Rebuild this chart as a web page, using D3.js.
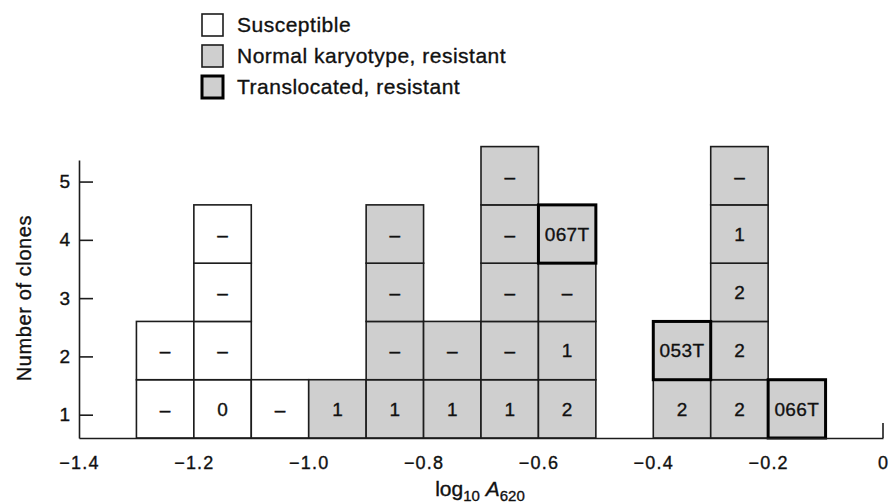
<!DOCTYPE html>
<html>
<head>
<meta charset="utf-8">
<script src="https://cdn.jsdelivr.net/npm/d3@7"></script>
<style>
  html, body { margin: 0; padding: 0; background: #fff; }
  svg { display: block; font-family: "Liberation Sans", Arial, Helvetica, sans-serif; }
  svg text { fill: #111; stroke: #111; stroke-width: 0.35px; }
</style>
</head>
<body>
<svg id="chart" width="890" height="503"></svg>
<script>
// Left edge of each 0.1-wide log10 A620 bin that holds clones
const binStarts = [-1.3, -1.2, -1.1, -1.0, -0.9, -0.8, -0.7, -0.6, -0.4, -0.3, -0.2];

// Label written in each stacked clone box, bottom to top
const cellLabels = [
  ["–", "–"],
  ["0", "–", "–", "–"],
  ["–"],
  ["1"],
  ["1", "–", "–", "–"],
  ["1", "–"],
  ["1", "–", "–", "–", "–"],
  ["2", "1", "–", "067T"],
  ["2", "053T"],
  ["2", "2", "2", "1", "–"],
  ["066T"]
];

// Clone type of each box: S = susceptible, N = normal karyotype resistant, T = translocated resistant
const cellTypes = [
  ["S", "S"],
  ["S", "S", "S", "S"],
  ["S"],
  ["N"],
  ["N", "N", "N", "N"],
  ["N", "N"],
  ["N", "N", "N", "N", "N"],
  ["N", "N", "N", "T"],
  ["N", "T"],
  ["N", "N", "N", "N", "N"],
  ["T"]
];

const xTickValues = [-1.4, -1.2, -1.0, -0.8, -0.6, -0.4, -0.2, 0];
const yTickValues = [1, 2, 3, 4, 5];

const legendTypes = ["S", "N", "T"];
const legendLabels = ["Susceptible", "Normal karyotype, resistant", "Translocated, resistant"];

const binWidth = 0.1;

const svg = d3.select("#chart");
const ink = "#1c1c1c";
const grey = "#cfcfcf";
const fillFor = t => (t === "S" ? "#ffffff" : grey);

const x = d3.scaleLinear().domain([-1.4, 0]).range([79, 883]);
const y = d3.scaleLinear().domain([0.6, 5.37]).range([438, 160]);

// Flatten the stacks into individual boxes
const cells = [];
binStarts.forEach((b, i) => {
  cellLabels[i].forEach((lab, k) => {
    cells.push({ bin: b, level: k + 1, label: lab, type: cellTypes[i][k] });
  });
});

const g = svg.append("g");

function drawCells(sel, data, strokeW) {
  const cg = sel.selectAll(null).data(data).enter().append("g");
  cg.append("rect")
    .attr("x", d => x(d.bin))
    .attr("y", d => y(d.level + 0.6))
    .attr("width", d => x(d.bin + binWidth) - x(d.bin))
    .attr("height", d => y(d.level - 0.4) - y(d.level + 0.6))
    .attr("fill", d => fillFor(d.type))
    .attr("stroke", d => d.type === "T" ? "#000" : ink)
    .attr("stroke-width", strokeW);
  cg.append("text")
    .attr("x", d => (x(d.bin) + x(d.bin + binWidth)) / 2)
    .attr("y", d => (y(d.level + 0.6) + y(d.level - 0.4)) / 2)
    .attr("dy", "0.36em")
    .attr("text-anchor", "middle")
    .attr("font-size", 19)
    .attr("letter-spacing", d => d.label.length > 2 ? 0.4 : 0)
    .text(d => d.label);
}

drawCells(g, cells.filter(d => d.type !== "T"), 1.6);
drawCells(g, cells.filter(d => d.type === "T"), 3);

// Y axis with inward ticks
const yAxis = d3.axisLeft(y).tickValues(yTickValues).tickSize(-14).tickSizeOuter(0).tickPadding(9)
  .tickFormat(d3.format("d"));
const yg = svg.append("g").attr("transform", `translate(${x(-1.4)},0)`).call(yAxis);
yg.select(".domain").attr("stroke", ink).attr("stroke-width", 1.6);
yg.selectAll(".tick line").attr("stroke", ink).attr("stroke-width", 1.6);
yg.selectAll(".tick text").attr("font-size", 19)
  .attr("font-family", "Liberation Sans, Arial, sans-serif");

// X axis: baseline only, labels below, a short upright tick at zero
const xAxis = d3.axisBottom(x).tickValues(xTickValues).tickSize(0).tickSizeOuter(0).tickPadding(18)
  .tickFormat(d => d === 0 ? "0" : d3.format(".1f")(d));
const xg = svg.append("g").attr("transform", `translate(0,${y(0.6)})`).call(xAxis);
xg.select(".domain").attr("stroke", ink).attr("stroke-width", 1.6);
xg.selectAll(".tick text").attr("font-size", 18).attr("letter-spacing", 1.2)
  .attr("font-family", "Liberation Sans, Arial, sans-serif");
svg.append("line")
  .attr("x1", x(0)).attr("x2", x(0))
  .attr("y1", y(0.6)).attr("y2", y(0.6) - 15)
  .attr("stroke", ink).attr("stroke-width", 1.6);

// Axis titles
const xt = svg.append("text")
  .attr("x", 480).attr("y", 496)
  .attr("text-anchor", "middle")
  .attr("font-size", 21);
xt.append("tspan").text("log");
xt.append("tspan").attr("font-size", 15).attr("dy", 5).text("10");
xt.append("tspan").attr("dy", -5).text(" ");
xt.append("tspan").attr("font-style", "italic").text("A");
xt.append("tspan").attr("font-size", 15).attr("dy", 5).text("620");

svg.append("text")
  .attr("transform", "translate(31,298) rotate(-90)")
  .attr("text-anchor", "middle")
  .attr("font-size", 20).attr("letter-spacing", 0.6)
  .text("Number of clones");

// Legend
const lg = svg.append("g").selectAll(null).data(legendTypes).enter().append("g")
  .attr("transform", (d, i) => `translate(202,${14 + i * 31})`);
lg.append("rect")
  .attr("width", 21).attr("height", 22)
  .attr("fill", d => fillFor(d))
  .attr("stroke", d => d === "T" ? "#000" : ink)
  .attr("stroke-width", d => d === "T" ? 3 : 1.6);
lg.append("text")
  .attr("x", 35).attr("y", 18)
  .attr("font-size", 21).attr("letter-spacing", 0.5)
  .text((d, i) => legendLabels[i]);
</script>
</body>
</html>
